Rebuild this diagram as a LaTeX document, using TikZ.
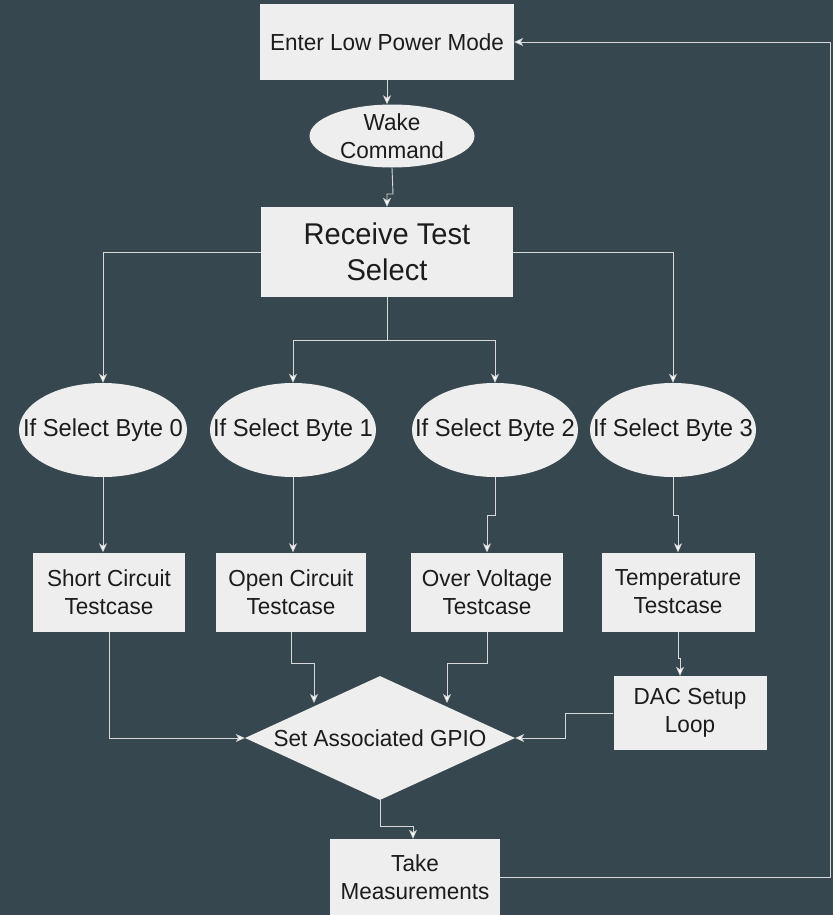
\documentclass[tikz,border=0pt]{standalone}
\usepackage{fontspec}
\setmainfont{Liberation Sans}[FakeStretch=0.97]
\usetikzlibrary{shapes.geometric,arrows.meta}
\definecolor{bg}{HTML}{37474F}
\definecolor{boxfill}{HTML}{EEEEEE}
\definecolor{txt}{HTML}{1C1C1C}
\definecolor{wire}{HTML}{D8D8D8}
\tikzset{
  base/.style={fill=boxfill, text=txt, inner sep=0pt, align=center,
    font=\fontsize{23.2pt}{28pt}\selectfont},
  rbox/.style={base, rectangle},
  ebox/.style={base, ellipse, inner sep=-24pt},
  conn/.style={draw=wire, line width=0.9pt, -{Stealth[length=9pt,width=8pt,inset=2.5pt,fill=white]}},
}
\begin{document}
\begin{tikzpicture}[x=1pt,y=-1pt]
\fill[bg] (0,0) rectangle (833,915);
\useasboundingbox (0,0) rectangle (833,915);

\node[rbox, minimum width=254pt, minimum height=76pt] (elp) at (387,42) {Enter Low Power Mode};
\node[ebox, minimum width=165pt, minimum height=63pt] (wake) at (392,136) {Wake\\Command};
\node[rbox, minimum width=252pt, minimum height=90pt, font=\fontsize{30pt}{36pt}\selectfont] (rts) at (387,252) {Receive Test\\Select};

\node[ebox, minimum width=168pt, minimum height=94pt, font=\fontsize{24.5pt}{28pt}\selectfont] (e0) at (103,430) {If Select Byte 0};
\node[ebox, minimum width=166pt, minimum height=94pt, font=\fontsize{24.5pt}{28pt}\selectfont] (e1) at (293,430) {If Select Byte 1};
\node[ebox, minimum width=166pt, minimum height=94pt, font=\fontsize{24.5pt}{28pt}\selectfont] (e2) at (495,430) {If Select Byte 2};
\node[ebox, minimum width=166pt, minimum height=94pt, font=\fontsize{24.5pt}{28pt}\selectfont] (e3) at (673,430) {If Select Byte 3};

\node[rbox, minimum width=152pt, minimum height=79pt] (sc) at (109,592) {Short Circuit\\Testcase};
\node[rbox, minimum width=150pt, minimum height=79pt] (oc) at (291,592) {Open Circuit\\Testcase};
\node[rbox, minimum width=152pt, minimum height=79pt] (ov) at (487,592) {Over Voltage\\Testcase};
\node[rbox, minimum width=153pt, minimum height=79pt] (tc) at (678,592) {Temperature\\Testcase};

\node[rbox, minimum width=153pt, minimum height=74pt] (dac) at (690,713) {DAC Setup\\Loop};
\node[base, diamond, minimum width=270pt, minimum height=124pt, label={[text=txt, font=\fontsize{23.2pt}{28pt}\selectfont]center:Set Associated GPIO}] (gpio) at (380,738) {};
\node[rbox, minimum width=170pt, minimum height=76pt] (tm) at (415,877) {Take\\Measurements};

\draw[conn] (elp.south) -- (elp.south |- wake.north);
\draw[conn] (wake.south) -- (393,194) -- (387,194) -- (rts.north);
\draw[conn] (rts.west) -| (e0.north);
\draw[conn] (rts.east) -| (e3.north);
\draw[conn] (rts.south) -- (387,340) -| (e1.north);
\draw[conn] (387,340) -| (e2.north);

\draw[conn] (e0.south) -- (e0.south |- sc.north);
\draw[conn] (e1.south) -- (e1.south |- oc.north);
\draw[conn] (e2.south) -- (495,515) -- (487,515) -- (ov.north);
\draw[conn] (e3.south) -- (673,515) -- (678,515) -- (tc.north);

\draw[conn] (tc.south) -- (678,658) -- (680,658) -- (680,0 |- dac.north);
\draw[conn] (sc.south) |- (gpio.west);
\draw[conn] (oc.south) -- (291,663) -- (314,663) -- (314,703);
\draw[conn] (ov.south) -- (487,663) -- (447,663) -- (447,703);
\draw[conn] (dac.west) -- (565,713) -- (565,738) -- (gpio.east);

\draw[conn] (gpio.south) -- (380,826) -- (413,826) -- (413,0 |- tm.north);
\draw[conn] (tm.east) -- (830,877) -- (830,42) -- (elp.east);
\end{tikzpicture}
\end{document}
